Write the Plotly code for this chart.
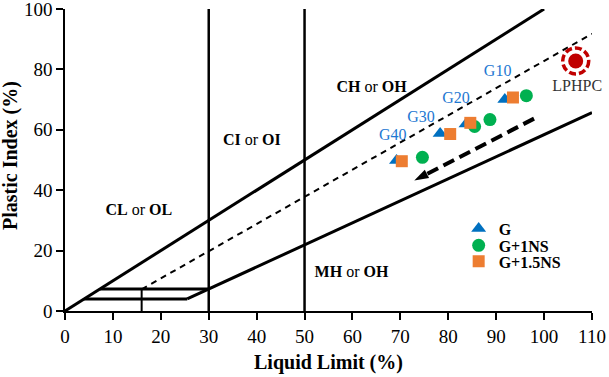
import plotly.graph_objects as go

# ---- data -------------------------------------------------------------
series_names = ["G", "G+1NS", "G+1.5NS"]
g_ll = [91.8, 83.7, 78.3, 69.2]
g_pi = [70.0, 61.9, 58.8, 49.8]
g1ns_ll = [96.3, 88.7, 85.5, 74.6]
g1ns_pi = [71.3, 63.4, 61.1, 50.9]
g15ns_ll = [93.5, 84.6, 80.4, 70.3]
g15ns_pi = [70.7, 62.3, 58.6, 49.6]

group_labels = ["G10", "G20", "G30", "G40"]
group_label_ll = [90.3, 81.6, 74.3, 68.4]
group_label_pi = [79.0, 70.2, 63.8, 58.1]

lphpc_name = "LPHPC"
lphpc_ll = [106.6]
lphpc_pi = [82.8]

# chart boundary lines (liquid limit, plastic index)
equal_ll = [0, 100]
equal_pi = [0, 100]
a_line_ll = [25.5, 110]
a_line_pi = [4.0, 65.7]
u_line_ll = [16, 110]
u_line_pi = [7.2, 91.8]
u_base_ll = [16, 16]
u_base_pi = [0, 7.2]
box_top_ll = [7.3, 30]
box_top_pi = [7.3, 7.3]
box_bot_ll = [4.0, 25.5]
box_bot_pi = [4.0, 4.0]
div30_ll = [30, 30]
div50_ll = [50, 50]
div_pi = [0, 100]

arrow_ll = [97.9, 72.9]
arrow_pi = [63.7, 43.2]

zone_labels = ["<b>CL</b> or <b>OL</b>", "<b>CI</b> or <b>OI</b>",
               "<b>CH</b> or <b>OH</b>", "<b>MH</b> or <b>OH</b>"]
zone_ll = [15.4, 39.0, 64.0, 59.8]
zone_pi = [33.2, 56.3, 74.0, 12.5]

x_ticks = list(range(0, 111, 10))
y_ticks = list(range(0, 101, 20))

# ---- figure -----------------------------------------------------------
FONT = "Liberation Serif, Times New Roman, serif"
BLUE = "#0070C0"
GREEN = "#00B050"
ORANGE = "#ED7D31"
RED = "#C00000"

fig = go.Figure()

def line(xs, ys, width=3, dash="solid"):
    fig.add_trace(go.Scatter(x=xs, y=ys, mode="lines",
                             line=dict(color="black", width=width, dash=dash),
                             showlegend=False, hoverinfo="skip"))

line(equal_ll, equal_pi, 3)
line(a_line_ll, a_line_pi, 3)
line(u_line_ll, u_line_pi, 2, "6px,5px")
line(u_base_ll, u_base_pi, 2)
line(box_top_ll, box_top_pi, 3)
line(box_bot_ll, box_bot_pi, 3)
line(div30_ll, div_pi, 2.5)
line(div50_ll, div_pi, 2.5)

# trend arrow
fig.add_trace(go.Scatter(x=arrow_ll, y=arrow_pi, mode="lines+markers",
                         line=dict(color="black", width=4, dash="12px,6px"),
                         marker=dict(symbol="arrow", angleref="previous", size=15,
                                     color="black", opacity=[0, 1]),
                         showlegend=False, hoverinfo="skip"))

fig.add_trace(go.Scatter(x=g_ll, y=g_pi, mode="markers", name=series_names[0],
                         marker=dict(symbol="triangle-up", size=13, color=BLUE),
                         legend="legend"))
fig.add_trace(go.Scatter(x=g1ns_ll, y=g1ns_pi, mode="markers", name=series_names[1],
                         marker=dict(symbol="circle", size=13, color=GREEN),
                         legend="legend2"))
fig.add_trace(go.Scatter(x=g15ns_ll, y=g15ns_pi, mode="markers", name=series_names[2],
                         marker=dict(symbol="square", size=12, color=ORANGE),
                         legend="legend3"))

fig.add_trace(go.Scatter(x=lphpc_ll, y=lphpc_pi, mode="markers",
                         marker=dict(symbol="circle", size=15, color=RED),
                         showlegend=False, cliponaxis=False))
fig.add_shape(type="circle", xref="x", yref="y", xsizemode="pixel", ysizemode="pixel",
              xanchor=lphpc_ll[0], yanchor=lphpc_pi[0], x0=-13, x1=13, y0=-13, y1=13,
              line=dict(color=RED, width=3.5, dash="7px,3px"))

fig.add_trace(go.Scatter(x=group_label_ll, y=group_label_pi, mode="text",
                         text=group_labels, textfont=dict(family=FONT, size=16, color="#1E78D2"),
                         showlegend=False, hoverinfo="skip", cliponaxis=False))
fig.add_trace(go.Scatter(x=[lphpc_ll[0] + 0.3], y=[lphpc_pi[0] - 8.5], mode="text",
                         text=[lphpc_name], textfont=dict(family=FONT, size=16, color="#333333"),
                         showlegend=False, hoverinfo="skip", cliponaxis=False))
fig.add_trace(go.Scatter(x=zone_ll, y=zone_pi, mode="text", text=zone_labels,
                         textfont=dict(family=FONT, size=16, color="black"),
                         showlegend=False, hoverinfo="skip", cliponaxis=False))

legend_font = dict(family=FONT, size=16, color="black", weight="bold")
legend_common = dict(font=legend_font, bgcolor="rgba(0,0,0,0)", xanchor="left",
                     yanchor="middle", x=0.747, itemclick=False)
fig.update_layout(
    legend=dict(legend_common, y=0.273),
    legend2=dict(legend_common, y=0.217),
    legend3=dict(legend_common, y=0.164),
)

axis_common = dict(showline=True, linecolor="black", linewidth=1.5, ticks="outside",
                   ticklen=7, tickwidth=1.5, tickcolor="black", showgrid=False,
                   zeroline=False, mirror=False, ticklabeloverflow="allow",
                   automargin=False,
                   tickfont=dict(family=FONT, size=19, color="black"))
fig.update_xaxes(axis_common, range=[0, 110], tickvals=x_ticks)
fig.update_yaxes(axis_common, range=[0, 100], tickvals=y_ticks)

fig.add_annotation(text="<b>Liquid Limit (%)</b>", xref="paper", yref="paper",
                   x=0.5, y=0, yanchor="middle", yshift=-51, showarrow=False,
                   font=dict(family=FONT, size=20, color="black"))
fig.add_annotation(text="<b>Plastic Index (%)</b>", xref="paper", yref="paper",
                   x=0, y=0.5, xanchor="center", xshift=-55, yshift=4, textangle=-90,
                   showarrow=False, font=dict(family=FONT, size=20, color="black"))

fig.update_layout(width=609, height=377, margin=dict(l=65, r=17, t=9, b=66, autoexpand=False),
                  plot_bgcolor="white", paper_bgcolor="white")

fig.write_html("out.html")
